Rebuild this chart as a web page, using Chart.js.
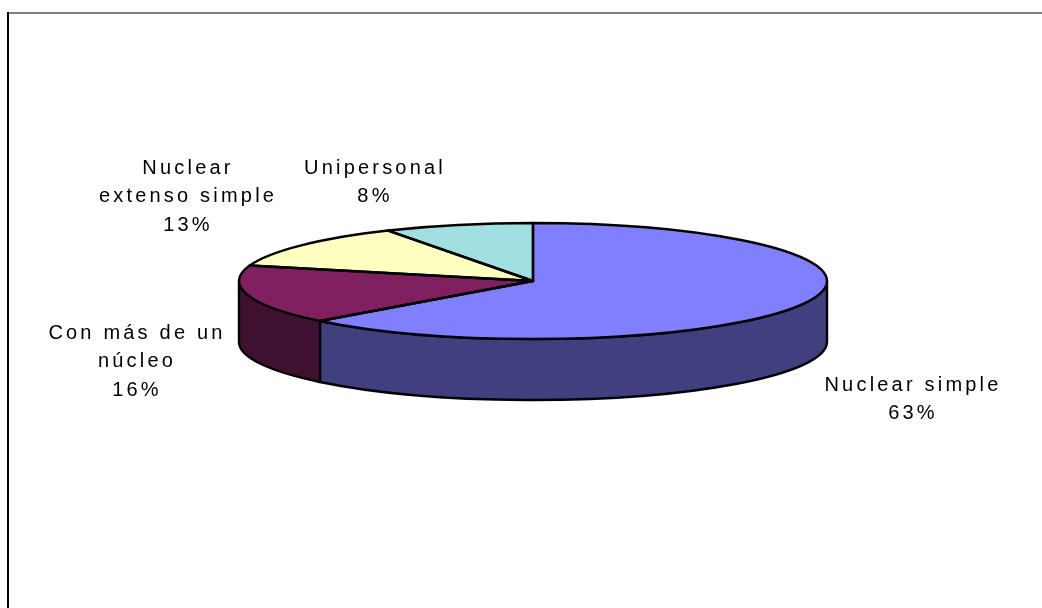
<!DOCTYPE html>
<html>
<head>
<meta charset="utf-8">
<style>html,body{margin:0;padding:0;background:#fff}canvas{display:block}</style>
<script src="https://cdn.jsdelivr.net/npm/chart.js@4"></script>
</head>
<body>
<canvas id="c" width="1042" height="608"></canvas>
<script>
const categories = ["Nuclear simple", "Con más de un núcleo", "Nuclear extenso simple", "Unipersonal"];
const shareValues = [62.9, 16.4, 12.5, 8.2];
const labelLines = [["Nuclear simple"], ["Con más de un", "núcleo"], ["Nuclear", "extenso simple"], ["Unipersonal"]];
const topColors = ["#8080FF", "#802060", "#FFFFC0", "#A0E0E0"];
const sideColors = ["#404080", "#401030", "#808060", "#507070"];
const labelCenters = [[913, 385], [137, 333], [188, 168], [375, 168]];

const CY = 281, RY = 58, DEPTH = 61, LINE = 2.4, LINE_GAP = 28.5;
const squash = a => RY / a.outerRadius;

const pie3d = {
  id: 'pie3d',
  beforeDraw(chart) {
    const c = chart.ctx;
    c.save();
    c.fillStyle = '#fff';
    c.fillRect(0, 0, chart.width, chart.height);
    c.lineWidth = 2;
    c.strokeStyle = '#808080';
    c.beginPath(); c.moveTo(8, 13); c.lineTo(chart.width, 13); c.stroke();
    c.strokeStyle = '#000';
    c.beginPath(); c.moveTo(8, 12); c.lineTo(8, chart.height); c.stroke();
    c.restore();
  },
  beforeDatasetsDraw(chart) {
    const c = chart.ctx, arcs = chart.getDatasetMeta(0).data;
    c.save();
    c.lineWidth = LINE; c.strokeStyle = '#000'; c.lineJoin = 'round';
    arcs.forEach((a, i) => {
      const rx = a.outerRadius;
      const from = Math.max(a.startAngle, 0), to = Math.min(a.endAngle, Math.PI);
      if (to <= from) return;
      c.beginPath();
      c.ellipse(a.x, CY, rx, RY, 0, from, to);
      c.lineTo(a.x + rx * Math.cos(to), CY + RY * Math.sin(to) + DEPTH);
      c.ellipse(a.x, CY + DEPTH, rx, RY, 0, to, from, true);
      c.closePath();
      c.fillStyle = sideColors[i];
      c.fill();
      c.stroke();
    });
    c.restore();
    // flatten the library's own arcs into the tilted top face
    const a0 = arcs[0];
    c.save();
    c.translate(0, CY);
    c.scale(1, squash(a0));
    c.translate(0, -a0.y);
  },
  afterDatasetsDraw(chart) {
    const c = chart.ctx, arcs = chart.getDatasetMeta(0).data;
    c.restore();
    c.save();
    c.lineWidth = LINE; c.strokeStyle = '#000'; c.lineJoin = 'round';
    arcs.forEach(a => {
      c.beginPath();
      c.moveTo(a.x, CY);
      c.ellipse(a.x, CY, a.outerRadius, RY, 0, a.startAngle, a.endAngle);
      c.closePath();
      c.stroke();
    });
    c.restore();
    c.save();
    c.font = '20px "Liberation Sans", Arial, sans-serif';
    c.letterSpacing = '3.2px';
    c.fillStyle = '#000';
    c.textAlign = 'center';
    c.textBaseline = 'middle';
    categories.forEach((_, i) => {
      const lines = labelLines[i].concat(Math.round(shareValues[i]) + '%');
      lines.forEach((t, k) => c.fillText(t, labelCenters[i][0], labelCenters[i][1] + k * LINE_GAP));
    });
    c.restore();
  }
};

new Chart(document.getElementById('c'), {
  type: 'pie',
  data: {
    labels: categories,
    datasets: [{ data: shareValues, backgroundColor: topColors, borderWidth: 0, hoverOffset: 0 }]
  },
  options: {
    responsive: false,
    animation: false,
    radius: 294,
    layout: { padding: { left: 24, right: 0, top: 0, bottom: 0 } },
    plugins: { legend: { display: false }, tooltip: { enabled: false } }
  },
  plugins: [pie3d]
});
</script>
</body>
</html>
